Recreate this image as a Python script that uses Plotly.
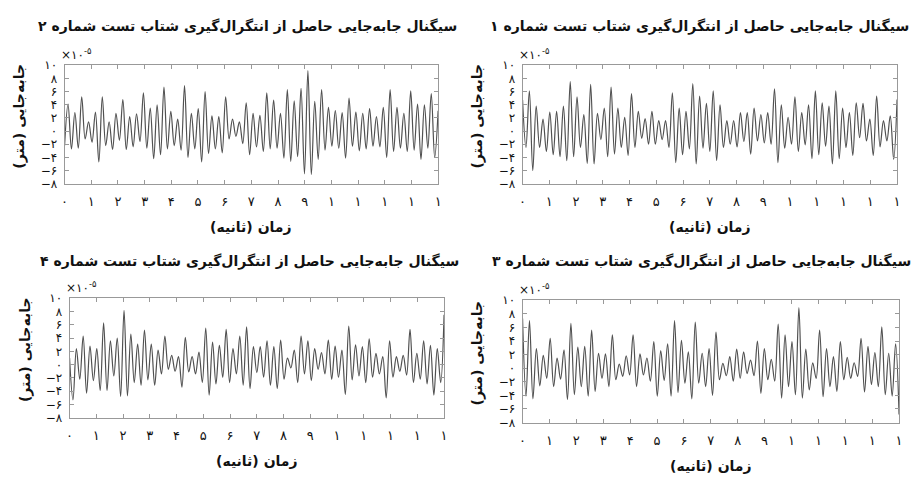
import numpy as np
import plotly.graph_objects as go

# Displacement values, in units of 1e-5 m
test1_peaks = [4.7, 6.1, 3.8, 1.8, 2.9, 3.0, 3.8, 7.5, 5.2, 2.5, 7.1, 2.7, 3.5, 6.7, 3.5, 2.1, 5.7, 3.0, 1.9, 3.0,
               1.6, 1.6, 5.8, 3.5, 3.0, 7.2, 5.3, 4.2, 6.1, 4.0, 1.6, 1.6, 2.8, 2.8, 3.5, 2.5, 2.8, 6.4, 4.0, 2.1,
               5.2, 2.8, 4.0, 6.1, 4.3, 3.8, 6.1, 3.5, 2.8, 4.3, 4.2, 1.8, 5.3, 1.6, 2.3, 4.8]
test1_troughs = [-2.5, -6.0, -2.5, -3.1, -3.6, -3.9, -4.5, -3.9, -2.5, -4.9, -5.0, -1.3, -3.9, -3.5, -2.5, -3.7, -2.5, -1.1, -2.0, -2.0,
                 -1.3, -2.5, -4.8, -3.6, -2.7, -5.0, -2.6, -3.1, -4.5, -2.5, -2.0, -2.4, -1.6, -3.5, -1.5, -1.8, -2.0, -4.8, -2.6, -2.0,
                 -3.1, -2.1, -4.2, -3.6, -2.3, -5.0, -4.2, -2.5, -3.7, -1.0, -1.5, -3.7, -2.4, -1.5, -4.3]

test2_peaks = [4.1, 2.8, 5.2, 1.4, 2.9, 5.2, 1.4, 2.7, 4.8, 2.2, 2.6, 5.8, 3.5, 4.0, 6.7, 3.0, 1.8, 6.9, 2.7, 3.4,
               6.0, 2.3, 2.2, 5.2, 1.8, 1.4, 4.3, 2.7, 2.4, 5.8, 4.7, 2.7, 6.3, 4.6, 6.5, 9.2, 4.5, 6.3, 3.6, 3.1,
               2.8, 5.0, 2.9, 2.7, 3.4, 2.2, 3.6, 6.3, 3.6, 2.7, 6.1, 4.1, 4.0, 5.7, 3.1]
test2_troughs = [-2.2, -2.7, -2.6, -1.2, -1.7, -4.7, -2.2, -2.8, -1.4, -2.8, -2.4, -1.6, -2.6, -4.2, -3.6, -2.7, -2.2, -2.9, -4.0, -2.7,
                 -4.7, -3.4, -2.7, -3.3, -1.2, -0.8, -1.9, -3.6, -2.4, -3.1, -2.7, -2.6, -4.1, -4.6, -3.9, -6.5, -6.6, -4.3, -2.9, -2.3,
                 -2.6, -4.1, -2.3, -3.0, -2.7, -2.3, -2.4, -4.0, -3.1, -2.6, -3.1, -2.9, -4.3, -2.6, -4.0]

test3_peaks = [7.3, 7.0, 2.9, 1.9, 4.4, 1.5, 2.7, 6.6, 3.1, 3.2, 5.6, 2.2, 2.1, 4.9, 0.6, 1.8, 4.9, 2.1, 1.5, 3.9,
               2.6, 3.6, 7.0, 4.1, 2.4, 6.8, 2.2, 2.9, 5.3, 0.7, 1.7, 2.8, 2.4, 1.2, 4.0, 2.9, 1.3, 6.5, 4.9, 3.9,
               8.9, 2.8, 0.8, 5.6, 2.9, 1.7, 3.9, 1.6, 0.8, 4.4, 3.2, 2.3, 6.1, 2.2, 3.6]
test3_troughs = [-4.1, -4.5, -2.6, -1.5, -2.7, -1.6, -4.6, -3.9, -2.7, -4.1, -3.4, -1.5, -2.7, -1.7, -1.2, -1.0, -2.7, -1.0, -1.9, -4.1,
                 -1.8, -4.1, -3.6, -2.2, -4.5, -2.2, -2.7, -4.0, -1.7, -1.1, -1.9, -1.5, -0.8, -1.1, -3.7, -1.7, -1.9, -4.4, -2.7, -3.9,
                 -4.4, -3.2, -1.5, -4.2, -2.7, -3.4, -1.7, -1.5, -1.2, -3.5, -2.4, -2.7, -3.9, -4.1, -6.8]

test4_peaks = [1.0, 2.4, 4.3, 2.8, 2.4, 6.3, 3.6, 4.0, 8.2, 4.6, 3.1, 5.2, 3.1, 2.2, 4.3, 1.4, 1.2, 4.1, 1.2, 1.9,
               5.5, 3.4, 2.9, 5.3, 2.4, 4.3, 5.7, 2.7, 2.7, 3.6, 2.7, 3.7, 1.0, 2.2, 4.3, 3.6, 2.4, 1.8, 3.7, 2.8,
               2.2, 5.8, 3.0, 2.7, 3.9, 1.7, 1.2, 3.6, 1.2, 1.4, 5.3, 1.7, 3.6, 2.9, 2.4, 7.5]
test4_troughs = [-5.3, -2.2, -4.3, -2.4, -3.9, -3.9, -1.7, -4.8, -4.7, -2.7, -3.1, -2.3, -3.1, -1.4, -0.7, -1.0, -3.4, -1.1, -1.4, -2.7,
                 -4.6, -2.9, -1.9, -2.7, -1.4, -3.1, -3.6, -1.2, -1.9, -3.1, -3.6, -2.2, -0.5, -2.7, -1.4, -2.4, -0.7, -1.4, -2.2, -1.9,
                 -4.5, -2.3, -1.7, -2.7, -1.9, -1.4, -5.0, -1.9, -1.0, -1.6, -2.7, -2.2, -2.9, -4.6, -2.7]

duration_s = 14
x_tick_values = list(range(0, 15))
x_tick_labels = ["۰", "۱", "۲", "۳", "۴", "۵", "۶", "۷", "۸", "۹", "۱", "۱", "۱", "۱", "۱"]
y_tick_values = [-8, -6, -4, -2, 0, 2, 4, 6, 8, 10]
y_tick_labels = ["−۸", "−۶", "−۴", "−۲", "۰", "۲", "۴", "۶", "۸", "۱۰"]

title_base = "سیگنال جابه\u200cجایی حاصل از انتگرال\u200cگیری شتاب تست شماره "
test_numbers = ["۱", "۲", "۳", "۴"]
x_title = "زمان (ثانیه)"
y_title = "جابه\u200cجایی (متر)"
exp_label = "×۱۰<sup>-۵</sup>"


def interleave(a, b):
    out = []
    for i in range(max(len(a), len(b))):
        if i < len(a):
            out.append(a[i])
        if i < len(b):
            out.append(b[i])
    return out


signals = [
    interleave(test1_peaks, test1_troughs),
    interleave(test2_troughs, test2_peaks),
    interleave(test3_peaks, test3_troughs),
    interleave(test4_peaks, test4_troughs),
]

W, H = 912, 482
# pixel boxes (left, right, top, bottom) for tests 1..4
boxes = [
    (523, 900, 60, 182),
    (62, 438, 60, 182),
    (523, 902, 302, 428),
    (67, 444, 300, 423),
]
title_centers = [(701, 20), (246, 20), (703, 262), (248, 262)]

fig = go.Figure()
font_fa = "DejaVu Sans"
annotations = []
layout_axes = {}
for i, (sig, box) in enumerate(zip(signals, boxes)):
    k = i + 1
    t = np.linspace(0, duration_s, len(sig))
    xa = "x" if k == 1 else f"x{k}"
    ya = "y" if k == 1 else f"y{k}"
    fig.add_trace(go.Scatter(x=t, y=sig, mode="lines", xaxis=xa, yaxis=ya,
                             line=dict(color="#505050", width=1.2), showlegend=False,
                             line_shape="spline", hoverinfo="skip"))
    l, r, tp, bt = box
    xname = "xaxis" if k == 1 else f"xaxis{k}"
    yname = "yaxis" if k == 1 else f"yaxis{k}"
    layout_axes[xname] = dict(domain=[l / W, r / W], anchor=ya, range=[0, duration_s],
                              tickvals=x_tick_values, ticktext=x_tick_labels,
                              ticks="inside", ticklen=4, tickcolor="#999", mirror="ticks",
                              showline=True, linecolor="#999", linewidth=1, showgrid=False,
                              zeroline=False, ticklabelstandoff=6,
                              tickfont=dict(family=font_fa, size=13, color="#111"))
    layout_axes[yname] = dict(domain=[1 - bt / H, 1 - tp / H], anchor=xa, range=[-8, 10],
                              tickvals=y_tick_values, ticktext=y_tick_labels,
                              ticks="inside", ticklen=4, tickcolor="#999", mirror="ticks",
                              showline=True, linecolor="#999", linewidth=1, showgrid=False,
                              zeroline=False, ticklabelstandoff=4,
                              tickfont=dict(family=font_fa, size=12, color="#111"))
    cx = (l + r) / 2
    tx, ty = title_centers[i]
    annotations.append(dict(text="<b>" + title_base + test_numbers[i] + "</b>",
                            x=tx / W, y=1 - ty / H, xref="paper", yref="paper",
                            showarrow=False, font=dict(family=font_fa, size=14, color="#111"),
                            xanchor="center", yanchor="middle"))
    annotations.append(dict(text="<b>" + x_title + "</b>",
                            x=cx / W, y=1 - (bt + 45) / H, xref="paper", yref="paper",
                            showarrow=False, font=dict(family=font_fa, size=14, color="#111"),
                            xanchor="center", yanchor="middle"))
    annotations.append(dict(text="<b>" + y_title + "</b>",
                            x=(l - 45) / W, y=1 - ((tp + bt) / 2 - 9) / H, xref="paper", yref="paper",
                            showarrow=False, textangle=-90, font=dict(family=font_fa, size=14, color="#111"),
                            xanchor="center", yanchor="middle"))
    annotations.append(dict(text=exp_label,
                            x=(l - 6) / W, y=1 - (tp - 12) / H, xref="paper", yref="paper",
                            showarrow=False, font=dict(family=font_fa, size=12, color="#111"),
                            xanchor="left", yanchor="middle"))

fig.update_layout(width=W, height=H, margin=dict(l=0, r=0, t=0, b=0),
                  paper_bgcolor="white", plot_bgcolor="white", hovermode=False,
                  annotations=annotations, **layout_axes)
fig.write_html("out.html", config={"displayModeBar": False},
               post_script="document.body.style.margin='0';document.body.style.overflow='hidden';")
